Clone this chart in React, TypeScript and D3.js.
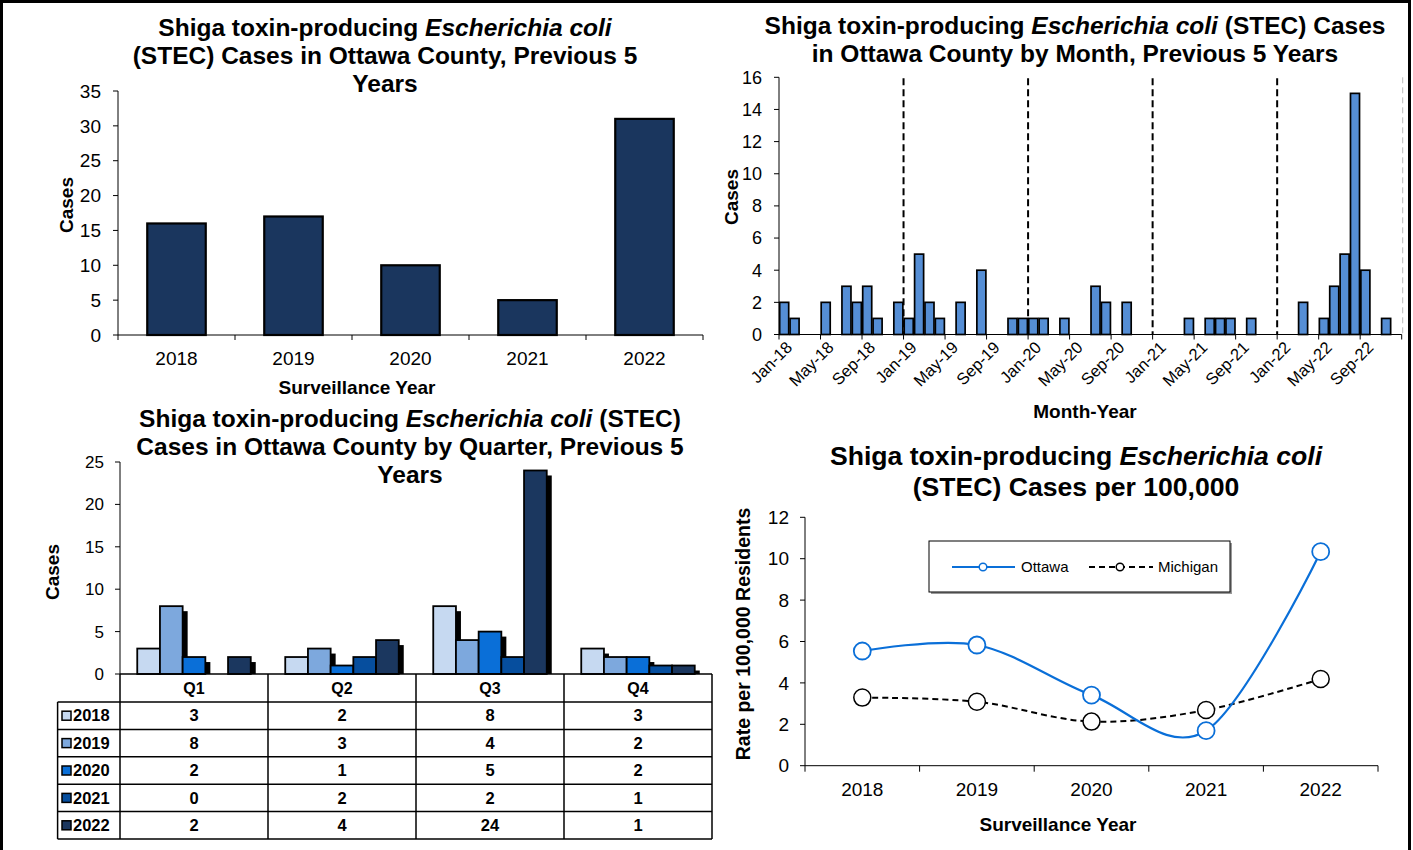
import React from 'react';
import * as d3 from 'd3';

// ---------- DATA ----------
const years = ['2018', '2019', '2020', '2021', '2022'];
const annualCases = [16, 17, 10, 5, 31];
const annualTicks = [0, 5, 10, 15, 20, 25, 30, 35];

// Monthly cases Jan-2018 .. Dec-2022
const monthlyCases = [
  2, 1, 0, 0, 2, 0, 3, 2, 3, 1, 0, 2,
  1, 5, 2, 1, 0, 2, 0, 4, 0, 0, 1, 1,
  1, 1, 0, 1, 0, 0, 3, 2, 0, 2, 0, 0,
  0, 0, 0, 1, 0, 1, 1, 1, 0, 1, 0, 0,
  0, 0, 2, 0, 1, 3, 5, 15, 4, 0, 1, 0,
];
const monthTickLabels = [
  'Jan-18', 'May-18', 'Sep-18', 'Jan-19', 'May-19', 'Sep-19', 'Jan-20', 'May-20',
  'Sep-20', 'Jan-21', 'May-21', 'Sep-21', 'Jan-22', 'May-22', 'Sep-22',
];
const monthTicks = [0, 2, 4, 6, 8, 10, 12, 14, 16];
const yearStartMonths = [12, 24, 36, 48];

const quarters = ['Q1', 'Q2', 'Q3', 'Q4'];
const q2018 = [3, 2, 8, 3];
const q2019 = [8, 3, 4, 2];
const q2020 = [2, 1, 5, 2];
const q2021 = [0, 2, 2, 1];
const q2022 = [2, 4, 24, 1];
const quarterSeries = [q2018, q2019, q2020, q2021, q2022];
const quarterColors = ['#C6D9F1', '#7DA8DD', '#0A6FD8', '#064E9E', '#1B375F'];
const quarterTicks = [0, 5, 10, 15, 20, 25];

const ottawaRate = [5.54, 5.83, 3.41, 1.69, 10.34];
const michiganRate = [3.29, 3.09, 2.13, 2.69, 4.19];
const rateTicks = [0, 2, 4, 6, 8, 10, 12];

// ---------- STYLE ----------
const FONT = "'Liberation Sans', Arial, Helvetica, sans-serif";
const NAVY = '#1A365E';
const MONTH_BLUE = '#558ED5';
const OTTAWA = '#0A6FD8';

function Title({ x, y, lines, size }: { x: number; y: number; lines: React.ReactNode[]; size: number }) {
  const lh = size * 1.15;
  return (
    <g>
      {lines.map((l, i) => (
        <text key={i} x={x} y={y + i * lh} textAnchor="middle" dy="0.35em"
          fontFamily={FONT} fontWeight="bold" fontSize={size} fill="#000">{l}</text>
      ))}
    </g>
  );
}

const Ecoli = () => <tspan fontStyle="italic">Escherichia coli</tspan>;

function VText({ x, y, size, children }: { x: number; y: number; size: number; children: React.ReactNode }) {
  return (
    <text transform={`translate(${x},${y}) rotate(-90)`} textAnchor="middle" dy="0.35em"
      fontFamily={FONT} fontWeight="bold" fontSize={size}>{children}</text>
  );
}

// ---------- TOP LEFT: annual ----------
function AnnualChart() {
  const x = d3.scaleBand<string>().domain(years).range([118, 703]).paddingInner(0.5).paddingOuter(0.25);
  const y = d3.scaleLinear().domain([0, 35]).range([335, 91]);
  const step = x.step();
  return (
    <g>
      <Title x={385} y={27.5} size={24.5} lines={[
        <>Shiga toxin-producing <Ecoli /></>,
        '(STEC) Cases in Ottawa County, Previous 5',
        'Years',
      ]} />
      {years.map((yr, i) => (
        <rect key={yr} x={x(yr)} y={y(annualCases[i])} width={x.bandwidth()}
          height={y(0) - y(annualCases[i])} fill={NAVY} stroke="#000" strokeWidth={2.2} />
      ))}
      <line x1={118} x2={118} y1={y(35)} y2={y(0)} stroke="#000" />
      <line x1={118} x2={703} y1={y(0)} y2={y(0)} stroke="#000" />
      {annualTicks.map(t => (
        <g key={t}>
          <line x1={113} x2={118} y1={y(t)} y2={y(t)} stroke="#000" />
          <text x={101} y={y(t)} dy="0.35em" textAnchor="end" fontFamily={FONT} fontSize={19}>{t}</text>
        </g>
      ))}
      {d3.range(years.length + 1).map(i => (
        <line key={i} x1={118 + i * step} x2={118 + i * step} y1={y(0)} y2={y(0) + 5} stroke="#000" />
      ))}
      {years.map(yr => (
        <text key={yr} x={(x(yr) as number) + x.bandwidth() / 2} y={358} dy="0.35em" textAnchor="middle"
          fontFamily={FONT} fontSize={19}>{yr}</text>
      ))}
      <text x={357} y={387} dy="0.35em" textAnchor="middle" fontFamily={FONT} fontWeight="bold" fontSize={19}>Surveillance Year</text>
      <VText x={66} y={205} size={19}>Cases</VText>
    </g>
  );
}

// ---------- TOP RIGHT: monthly ----------
function MonthlyChart() {
  const idx = d3.range(monthlyCases.length);
  const left = 779, right = 1401.7;
  const x = d3.scaleBand<number>().domain(idx).range([left, right]).paddingInner(0.13).paddingOuter(0.065);
  const y = d3.scaleLinear().domain([0, 16]).range([334.5, 77.3]);
  const step = x.step();
  const bx = (m: number) => left + m * step;
  return (
    <g>
      <Title x={1075} y={25.5} size={24.5} lines={[
        <>Shiga toxin-producing <Ecoli /> (STEC) Cases</>,
        'in Ottawa County by Month, Previous 5 Years',
      ]} />
      <line x1={right + 1} x2={right + 1} y1={y(16)} y2={y(0)} stroke="#bbb" strokeDasharray="6,4" />
      {yearStartMonths.map(m => (
        <line key={m} x1={bx(m)} x2={bx(m)} y1={y(16) + 1} y2={y(0)} stroke="#000" strokeWidth={2} strokeDasharray="7,4" />
      ))}
      {monthlyCases.map((v, i) => v > 0 ? (
        <rect key={i} x={x(i)} y={y(v)} width={x.bandwidth()} height={y(0) - y(v)}
          fill={MONTH_BLUE} stroke="#000" strokeWidth={1.7} />
      ) : null)}
      <line x1={left} x2={left} y1={y(16)} y2={y(0)} stroke="#000" />
      <line x1={left} x2={right} y1={y(0)} y2={y(0)} stroke="#000" />
      {monthTicks.map(t => (
        <g key={t}>
          <line x1={left - 5} x2={left} y1={y(t)} y2={y(t)} stroke="#000" />
          <text x={762} y={y(t)} dy="0.35em" textAnchor="end" fontFamily={FONT} fontSize={18}>{t}</text>
        </g>
      ))}
      {d3.range(0, 61, 4).map(m => (
        <line key={m} x1={bx(m)} x2={bx(m)} y1={y(0)} y2={y(0) + 5} stroke="#000" />
      ))}
      {monthTickLabels.map((lab, i) => {
        const m = i * 4;
        const cx = (x(m) as number) + x.bandwidth() / 2;
        return (
          <text key={lab} transform={`translate(${cx + 5},${y(0) + 10}) rotate(-45)`} textAnchor="end" dy="0.35em"
            fontFamily={FONT} fontSize={16.5}>{lab}</text>
        );
      })}
      <text x={1085} y={411} dy="0.35em" textAnchor="middle" fontFamily={FONT} fontWeight="bold" fontSize={19}>Month-Year</text>
      <VText x={731} y={197} size={19}>Cases</VText>
    </g>
  );
}

// ---------- BOTTOM LEFT: quarterly + data table ----------
function QuarterChart() {
  const left = 120, right = 712;
  const xq = d3.scaleBand<string>().domain(quarters).range([left, right]).padding(0);
  const xy = d3.scaleBand<string>().domain(years).range([0, xq.bandwidth()]).paddingInner(0).paddingOuter(0.76);
  const y = d3.scaleLinear().domain([0, 25]).range([674, 462]);
  const rowTop = 702, rowH = 27.4, labelLeft = 57.6;
  const colEdges = [left, ...quarters.map(q => (xq(q) as number) + xq.bandwidth())];
  const sh = 5;
  return (
    <g>
      <Title x={410} y={418} size={24.5} lines={[
        <>Shiga toxin-producing <Ecoli /> (STEC)</>,
        'Cases in Ottawa County by Quarter, Previous 5',
        'Years',
      ]} />
      {quarters.map((q, qi) => (
        <g key={q}>
          {years.map((yr, yi) => {
            const v = quarterSeries[yi][qi];
            if (v <= 0) return null;
            const bx = (xq(q) as number) + (xy(yr) as number);
            const w = xy.bandwidth();
            const top = y(v);
            return (
              <g key={yr}>
                <rect x={bx + sh} y={top + sh} width={w} height={Math.max(0, y(0) - top - sh)} fill="#000" />
                <rect x={bx} y={top} width={w} height={y(0) - top} fill={quarterColors[yi]} stroke="#000" strokeWidth={1.8} />
              </g>
            );
          })}
        </g>
      ))}
      <line x1={left} x2={left} y1={y(25)} y2={y(0)} stroke="#000" />
      <line x1={left} x2={right} y1={y(0)} y2={y(0)} stroke="#000" strokeWidth={1.5} />
      {quarterTicks.map(t => (
        <g key={t}>
          <line x1={left - 5} x2={left} y1={y(t)} y2={y(t)} stroke="#000" />
          <text x={104} y={y(t)} dy="0.35em" textAnchor="end" fontFamily={FONT} fontSize={17}>{t}</text>
        </g>
      ))}
      <VText x={52} y={572} size={19}>Cases</VText>
      {/* table */}
      {colEdges.map((cx, i) => (
        <line key={'v' + i} x1={cx} x2={cx} y1={y(0)} y2={rowTop + rowH * 5} stroke="#000" strokeWidth={1.5} />
      ))}
      <line x1={labelLeft} x2={labelLeft} y1={rowTop} y2={rowTop + rowH * 5} stroke="#000" strokeWidth={1.5} />
      {d3.range(6).map(r => (
        <line key={'h' + r} x1={labelLeft} x2={right} y1={rowTop + r * rowH} y2={rowTop + r * rowH} stroke="#000" strokeWidth={1.5} />
      ))}
      {quarters.map(q => (
        <text key={q} x={(xq(q) as number) + xq.bandwidth() / 2} y={(y(0) + rowTop) / 2} dy="0.35em" textAnchor="middle"
          fontFamily={FONT} fontWeight="bold" fontSize={16}>{q}</text>
      ))}
      {years.map((yr, yi) => {
        const cy = rowTop + yi * rowH + rowH / 2;
        return (
          <g key={yr}>
            <rect x={62} y={cy - 4.5} width={9} height={9} fill={quarterColors[yi]} stroke="#000" strokeWidth={1.5} />
            <text x={73} y={cy} dy="0.35em" fontFamily={FONT} fontWeight="bold" fontSize={16.5}>{yr}</text>
            {quarters.map((q, qi) => (
              <text key={q} x={(xq(q) as number) + xq.bandwidth() / 2} y={cy} dy="0.35em" textAnchor="middle"
                fontFamily={FONT} fontWeight="bold" fontSize={16.5}>{quarterSeries[yi][qi]}</text>
            ))}
          </g>
        );
      })}
    </g>
  );
}

// ---------- BOTTOM RIGHT: rates ----------
function RateChart() {
  const left = 805, right = 1378;
  const x = d3.scalePoint<string>().domain(years).range([left, right]).padding(0.5);
  const y = d3.scaleLinear().domain([0, 12]).range([765.7, 517.3]);
  const step = x.step();
  const line = d3.line<number>().x((_, i) => x(years[i]) as number).y(d => y(d)).curve(d3.curveCatmullRom.alpha(0));
  return (
    <g>
      <Title x={1076} y={456} size={26.6} lines={[
        <>Shiga toxin-producing <Ecoli /></>,
        '(STEC) Cases per 100,000',
      ]} />
      <line x1={left} x2={left} y1={y(12)} y2={y(0)} stroke="#000" />
      <line x1={left} x2={right} y1={y(0)} y2={y(0)} stroke="#000" />
      {rateTicks.map(t => (
        <g key={t}>
          <line x1={left - 5} x2={left} y1={y(t)} y2={y(t)} stroke="#000" />
          <text x={789} y={y(t)} dy="0.35em" textAnchor="end" fontFamily={FONT} fontSize={19}>{t}</text>
        </g>
      ))}
      {d3.range(years.length + 1).map(i => (
        <line key={i} x1={left + i * step} x2={left + i * step} y1={y(0)} y2={y(0) + 6} stroke="#000" />
      ))}
      {years.map(yr => (
        <text key={yr} x={x(yr)} y={789} dy="0.35em" textAnchor="middle" fontFamily={FONT} fontSize={19}>{yr}</text>
      ))}
      <path d={line(michiganRate) || ''} fill="none" stroke="#000" strokeWidth={2} strokeDasharray="6,4" />
      <path d={line(ottawaRate) || ''} fill="none" stroke={OTTAWA} strokeWidth={2.2} />
      {michiganRate.map((v, i) => (
        <circle key={'m' + i} cx={x(years[i])} cy={y(v)} r={8.5} fill="#fff" stroke="#000" strokeWidth={1.5} />
      ))}
      {ottawaRate.map((v, i) => (
        <circle key={'o' + i} cx={x(years[i])} cy={y(v)} r={8.5} fill="#fff" stroke={OTTAWA} strokeWidth={1.8} />
      ))}
      {/* legend */}
      <rect x={931} y={543} width={301} height={51} fill="#999" />
      <rect x={929} y={541} width={301} height={51} fill="#fff" stroke="#000" strokeWidth={1} />
      <line x1={952} x2={1015} y1={567} y2={567} stroke={OTTAWA} strokeWidth={2.2} />
      <circle cx={983} cy={567} r={3.8} fill="#fff" stroke={OTTAWA} strokeWidth={1.5} />
      <text x={1021} y={567} dy="0.35em" fontFamily={FONT} fontSize={15}>Ottawa</text>
      <line x1={1089} x2={1153} y1={567} y2={567} stroke="#000" strokeWidth={2} strokeDasharray="6,4" />
      <circle cx={1120} cy={567} r={3.8} fill="#fff" stroke="#000" strokeWidth={1.5} />
      <text x={1158} y={567} dy="0.35em" fontFamily={FONT} fontSize={15}>Michigan</text>
      <text x={1058} y={824} dy="0.35em" textAnchor="middle" fontFamily={FONT} fontWeight="bold" fontSize={19}>Surveillance Year</text>
      <VText x={743} y={634} size={19.5}>Rate per 100,000 Residents</VText>
    </g>
  );
}

export default function App() {
  return (
    <svg width={1413} height={850} style={{ position: 'absolute', left: 0, top: 0, background: '#fff' }}>
      <rect x={0} y={0} width={1413} height={850} fill="#fff" />
      <rect x={1.5} y={1.5} width={1408} height={900} fill="none" stroke="#000" strokeWidth={3} />
      <AnnualChart />
      <MonthlyChart />
      <QuarterChart />
      <RateChart />
    </svg>
  );
}
